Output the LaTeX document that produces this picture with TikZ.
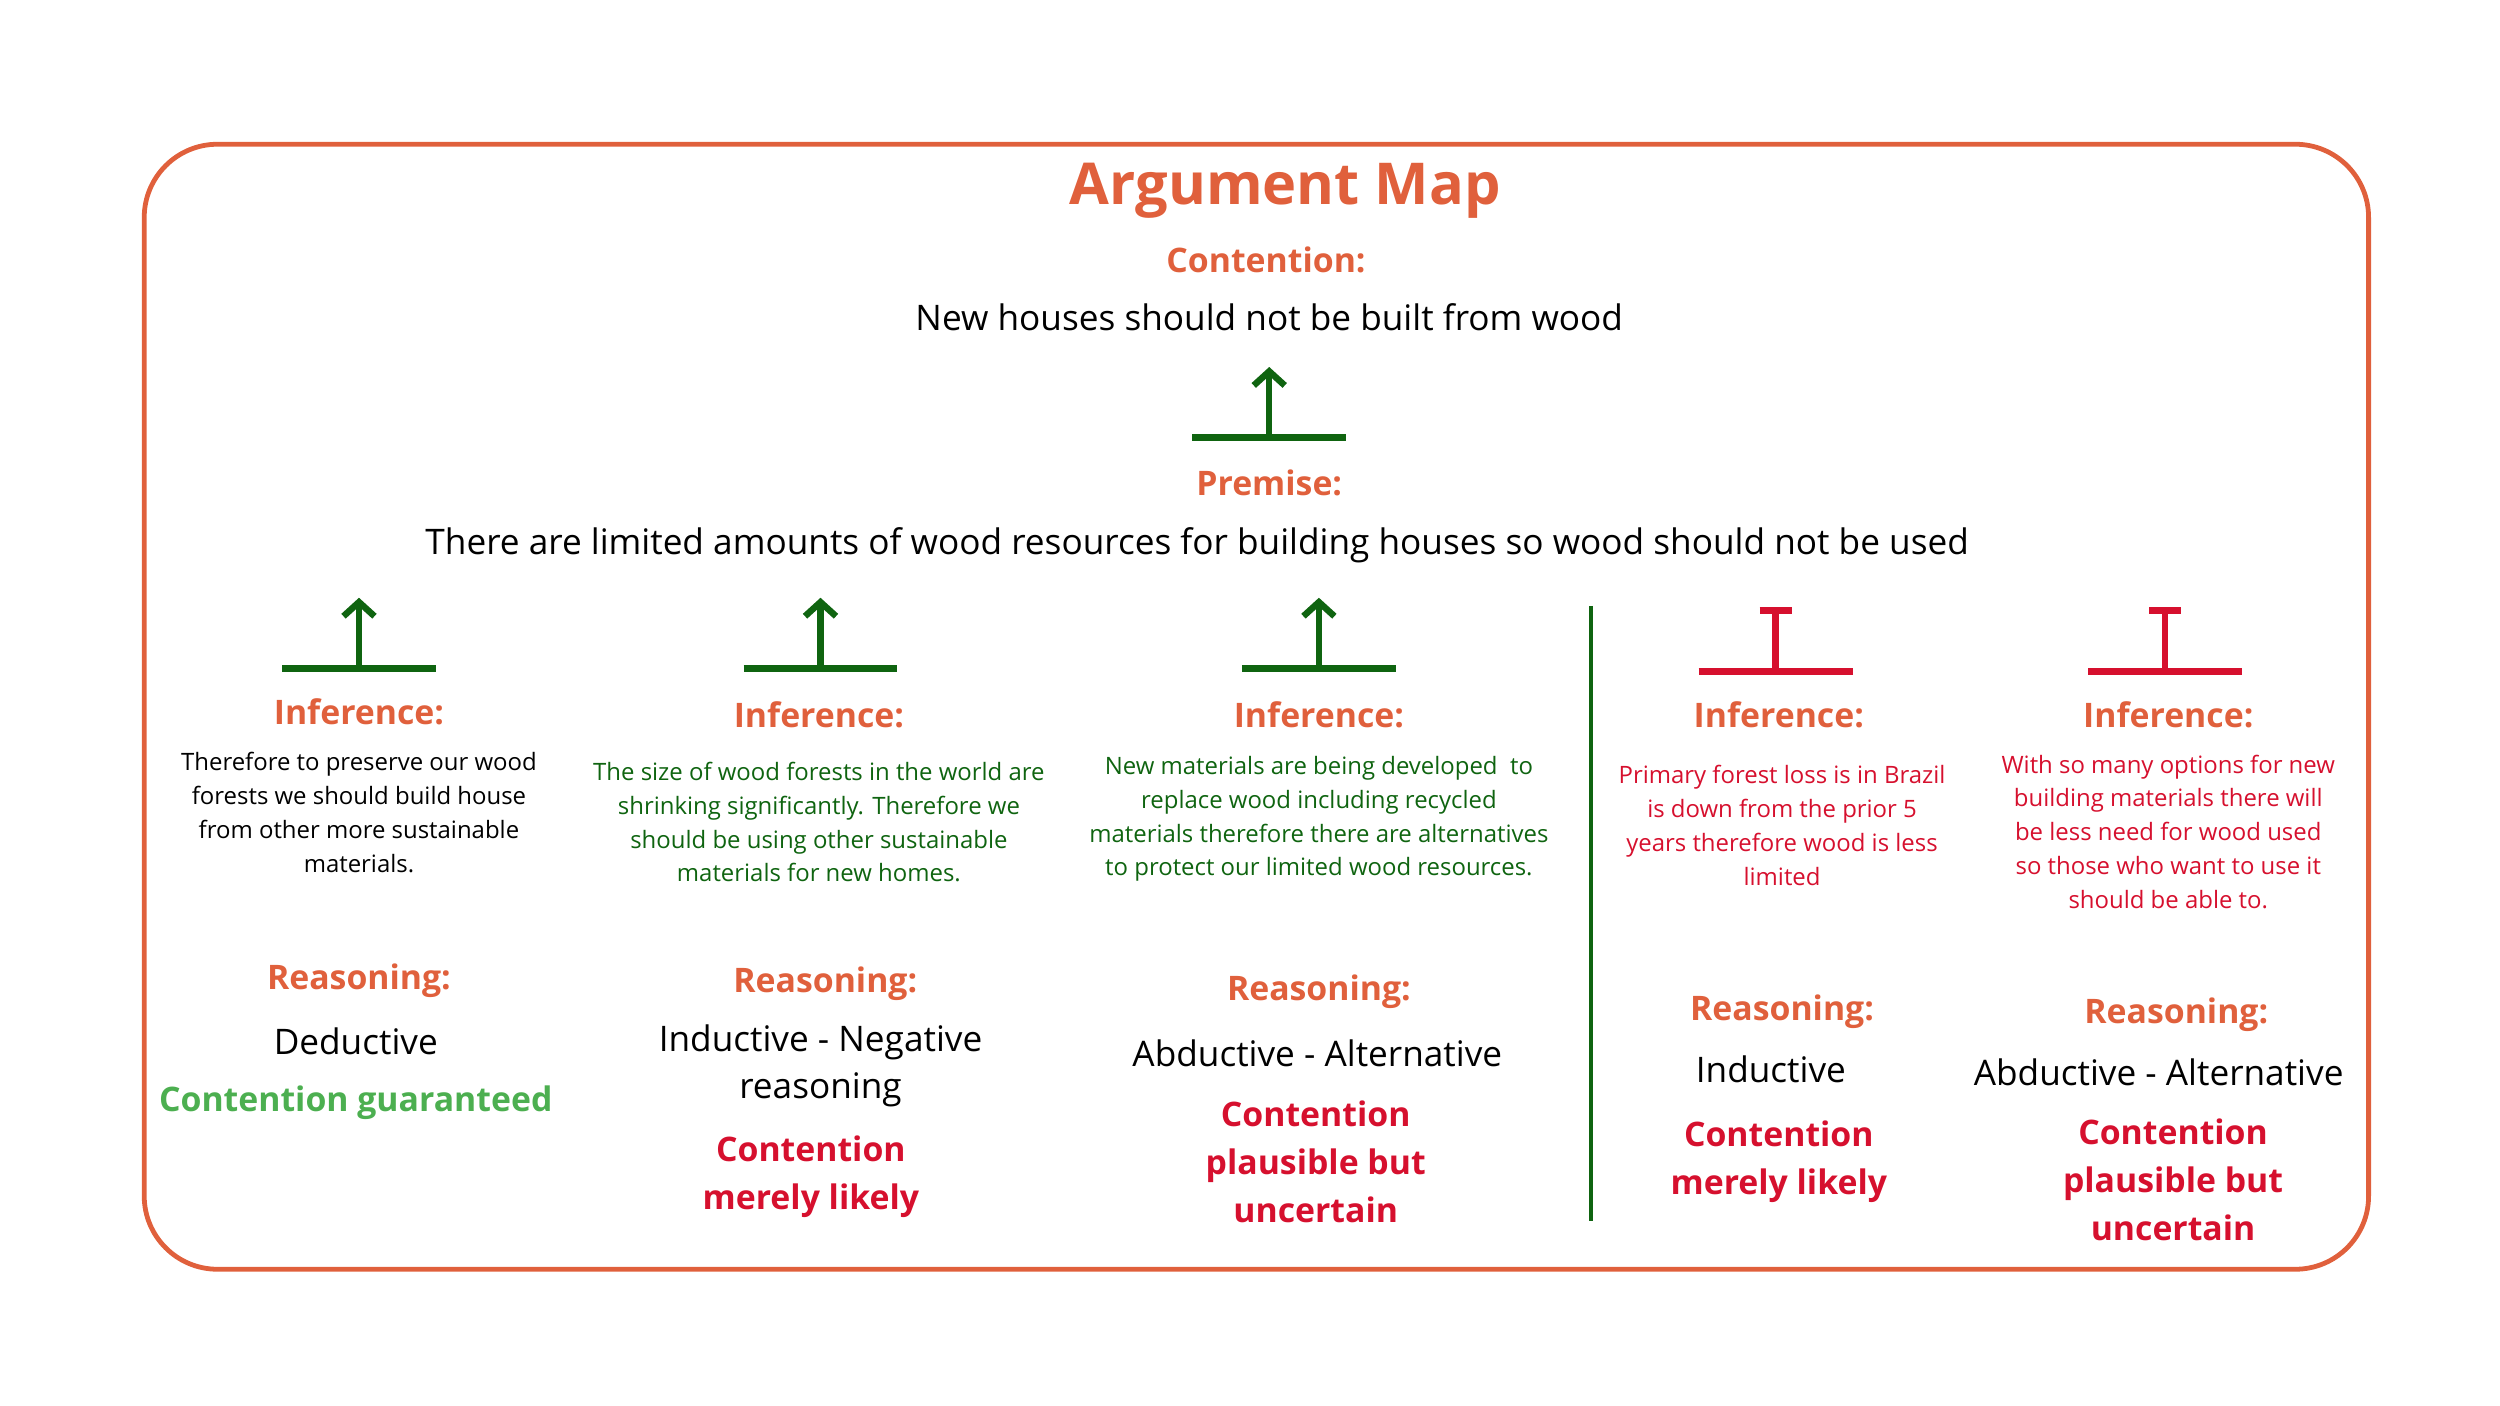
\documentclass[tikz,border=0pt]{standalone}
\usepackage{fontspec}
\setmainfont{Open Sans}
\usepackage{tikz}

\definecolor{mapOrange}{HTML}{E0603C}
\definecolor{mapRed}{HTML}{D6102E}
\definecolor{mapGreen}{HTML}{0F6410}
\definecolor{mapLight}{HTML}{4CAF50}

\tikzset{
  head/.style={text=mapOrange, font=\fontsize{12}{14}\selectfont\bfseries},
  body/.style={font=\fontsize{12.5}{16.5}\selectfont, align=center},
  small/.style={font=\fontsize{8.5}{12}\selectfont, align=center},
  verdict/.style={text=mapRed, font=\fontsize{12}{17}\selectfont\bfseries, align=center},
  supp/.style={mapGreen, line width=2.3pt},
  obj/.style={mapRed, line width=2.3pt}
}

\newcommand{\supportmark}[2]{% x, base y
  \draw[supp] (#1-48,#2) -- (#1+48,#2);
  \draw[supp,->,>={Straight Barb[length=5pt,width=11pt]}] (#1,#2) -- (#1,#2-44);
}
\newcommand{\objectmark}[2]{%
  \draw[obj] (#1-48,#2) -- (#1+48,#2);
  \draw[obj] (#1,#2) -- (#1,#2-38);
  \draw[obj] (#1-10,#2-38) -- (#1+10,#2-38);
}

\usetikzlibrary{arrows.meta}

\begin{document}
\begin{tikzpicture}[x=0.02cm,y=-0.02cm]
  \useasboundingbox (0,0) rectangle (1560,877);
  \draw[mapOrange, line width=1.7pt, rounded corners=26pt] (90,90) rectangle (1478,792);

  \node[text=mapOrange, font=\fontsize{20.5}{24}\selectfont\bfseries] (title) at (802,119) {Argument Map};
  \node[head] (contLbl) at (790,162) {Contention:};
  \node[body] (cont) at (792,198) {New houses should not be built from wood};
  \supportmark{792}{273}
  \node[head] (premLbl) at (792,301) {Premise:};
  \node[body] (prem) at (747,340) {There are limited amounts of wood resources for building houses so wood should not be used};

  % supporting inferences
  \supportmark{224}{417}
  \supportmark{512}{417}
  \supportmark{823}{417}
  % objections
  \objectmark{1108}{419}
  \objectmark{1351}{419}
  \draw[mapGreen, line width=1.5pt] (993,378) -- (993,762);

  \foreach \x/\y/\nm in {224/444/a, 511/446/b, 823/446/c, 1110/446/d, 1353/446/e}
    \node[head] (inf\nm) at (\x,\y) {Inference:};

  \node[small] (txtA) at (224,507) {Therefore to preserve our wood\\forests we should build house\\from other more sustainable\\materials.};
  \node[small, text=mapGreen] (txtB) at (511,513) {The size of wood forests in the world are\\shrinking significantly. Therefore we\\should be using other sustainable\\materials for new homes.};
  \node[small, text=mapGreen] (txtC) at (823,511) {New materials are being developed\ \ to\\replace wood including recycled\\materials therefore there are alternatives\\to protect our limited wood resources.};
  \node[small, text=mapRed] (txtD) at (1112,515) {Primary forest loss is in Brazil\\is down from the prior 5\\years therefore wood is less\\limited};
  \node[small, text=mapRed] (txtE) at (1353,519) {With so many options for new\\building materials there will\\be less need for wood used\\so those who want to use it\\should be able to.};

  \foreach \x/\y/\nm in {224/612/a, 515/614/b, 823/619/c, 1112/631/d, 1358/633/e}
    \node[head] (rsn\nm) at (\x,\y) {Reasoning:};

  \node[body] (kindA) at (222,650) {Deductive};
  \node[body] (kindB) at (512,665) {Inductive - Negative\\reasoning};
  \node[body] (kindC) at (822,657) {Abductive - Alternative};
  \node[body] (kindD) at (1105,667) {Inductive};
  \node[body] (kindE) at (1347,669) {Abductive - Alternative};

  \node[verdict, text=mapLight] (verA) at (222,688) {Contention guaranteed};
  \node[verdict] (verB) at (506,734) {Contention\\merely likely};
  \node[verdict] (verC) at (821,725) {Contention\\plausible but\\uncertain};
  \node[verdict] (verD) at (1110,725) {Contention\\merely likely};
  \node[verdict] (verE) at (1356,736) {Contention\\plausible but\\uncertain};
\end{tikzpicture}
\end{document}
